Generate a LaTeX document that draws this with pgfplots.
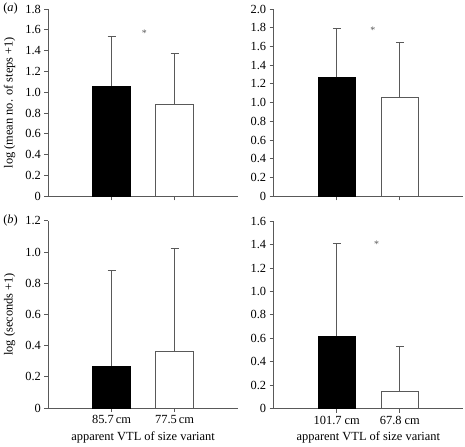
\documentclass[border=0pt]{standalone}
\usepackage{fontspec}
\setmainfont{Liberation Serif}
\usepackage{pgfplots}
\pgfplotsset{compat=1.18}
\definecolor{axgray}{gray}{0.35}
\newcommand{\fs}{\fontsize{12.5}{14}\selectfont}
\pgfplotsset{
  panel/.style={
    scale only axis, width=190bp, height=188bp,
    anchor=south west,
    xmin=0, xmax=3, ymin=0,
    axis x line=bottom, axis y line=left,
    axis line style={-, axgray, line width=0.9bp},
    every tick/.style={axgray, line width=0.9bp},
    tick align=outside, major tick length=4bp,
    xtick={1,2},
    ybar, bar width=38bp, bar shift=0pt,
    /pgf/number format/assume math mode=true,
    tick label style={font=\fs},
    every axis y label/.style={at={(axis description cs:-0.205,0.5)}, rotate=90, anchor=center, font=\fs},
    every axis x label/.style={at={(axis description cs:0.5,-0.155)}, anchor=center, font=\fs},
    error bars/y dir=plus, error bars/y explicit,
    error bars/error bar style={axgray, line width=0.9bp},
    error bars/error mark options={axgray, line width=0.9bp, mark size=4bp, rotate=90},
    clip=false,
  },
  blackbar/.style={fill=black, draw=black, line width=0.6bp},
  whitebar/.style={fill=white, draw=axgray, line width=0.9bp},
}
\begin{document}
\begin{tikzpicture}
\path (0,0) rectangle (465bp,445bp);
% (a) left
\begin{axis}[panel, at={(47bp,248bp)}, ymax=1.8,
  ytick={0,0.2,0.4,0.6,0.8,1.0,1.2,1.4,1.6,1.8},
  yticklabels={0,0.2,0.4,0.6,0.8,1.0,1.2,1.4,1.6,1.8},
  xticklabels={},
  ylabel={log (mean no. of steps +1)}]
\addplot[blackbar] coordinates {(1,1.06) +- (0,0.48)};
\addplot[whitebar] coordinates {(2,0.88) +- (0,0.49)};
\node[font=\fontsize{10}{12}\selectfont, axgray] at (axis cs:1.52,1.57) {*};
\node[font=\fs] at (axis description cs:0,1) [xshift=-38bp] {(\textit{a})};
\end{axis}
% (a) right
\begin{axis}[panel, at={(273bp,248bp)}, ymax=2.0,
  ytick={0,0.2,0.4,0.6,0.8,1.0,1.2,1.4,1.6,1.8,2.0},
  yticklabels={0,0.2,0.4,0.6,0.8,1.0,1.2,1.4,1.6,1.8,2.0},
  xticklabels={}]
\addplot[blackbar] coordinates {(1,1.27) +- (0,0.52)};
\addplot[whitebar] coordinates {(2,1.06) +- (0,0.58)};
\node[font=\fontsize{10}{12}\selectfont, axgray] at (axis cs:1.57,1.77) {*};
\end{axis}
% (b) left
\begin{axis}[panel, at={(47bp,35.5bp)}, ymax=1.2,
  ytick={0,0.2,0.4,0.6,0.8,1.0,1.2},
  yticklabels={0,0.2,0.4,0.6,0.8,1.0,1.2},
  xticklabels={85.7\,cm,77.5\,cm},
  ylabel={log (seconds +1)},
  xlabel={apparent VTL of size variant}]
\addplot[blackbar] coordinates {(1,0.27) +- (0,0.61)};
\addplot[whitebar] coordinates {(2,0.36) +- (0,0.66)};
\node[font=\fs] at (axis description cs:0,1) [xshift=-38bp] {(\textit{b})};
\end{axis}
% (b) right
\begin{axis}[panel, at={(273bp,35bp)}, ymax=1.6,
  ytick={0,0.2,0.4,0.6,0.8,1.0,1.2,1.4,1.6},
  yticklabels={0,0.2,0.4,0.6,0.8,1.0,1.2,1.4,1.6},
  xticklabels={101.7 cm,67.8 cm},
  xlabel={apparent VTL of size variant}]
\addplot[blackbar] coordinates {(1,0.62) +- (0,0.79)};
\addplot[whitebar] coordinates {(2,0.15) +- (0,0.38)};
\node[font=\fontsize{10}{12}\selectfont, axgray] at (axis cs:1.63,1.40) {*};
\end{axis}
\end{tikzpicture}
\end{document}
